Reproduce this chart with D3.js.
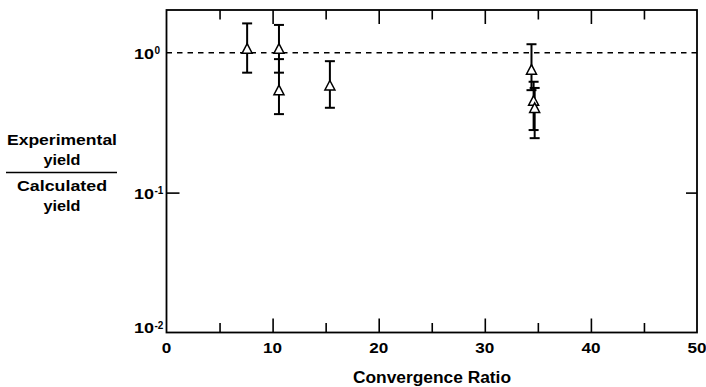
<!DOCTYPE html>
<html>
<head>
<meta charset="utf-8">
<script src="https://d3js.org/d3.v7.min.js"></script>
<style>
  html, body { margin: 0; padding: 0; background: #fff; }
  svg { display: block; }
  text { font-family: "Liberation Sans", Arial, Helvetica, sans-serif; font-weight: bold; fill: #000; }
</style>
</head>
<body>
<svg id="chart" width="706" height="387"></svg>
<script>
// ---- data ----
const convergenceRatio = [7.6, 10.6, 10.6, 15.4, 34.4, 34.6, 34.7];
const yieldRatio       = [1.06, 1.06, 0.535, 0.578, 0.75, 0.45, 0.40];
const errHigh          = [1.62, 1.58, 0.90, 0.87, 1.15, 0.62, 0.56];
const errLow           = [0.72, 0.72, 0.364, 0.404, 0.54, 0.28, 0.245];
const xTickValues = [0, 10, 20, 30, 40, 50];
const xMajorTicks = [10, 20, 30, 40];
const xMinorTicks = [5, 15, 25, 35, 45];
const yTickValues = [0.01, 0.1, 1];
const yTickExponents = ["-2", "-1", "0"];
const referenceLevel = 1;
const xTitle = "Convergence Ratio";
const yTitleTop = ["Experimental", "yield"];
const yTitleBottom = ["Calculated", "yield"];

// ---- layout ----
const svg = d3.select("#chart");
const L = 166.5, R = 697, T = 10, B = 332.5;
const x = d3.scaleLinear().domain([0, 50]).range([L, R]);
const y = d3.scaleLog().domain([0.01, 2.02]).range([B, T]);

// frame
svg.append("rect").attr("x", L).attr("y", T).attr("width", R - L).attr("height", B - T)
  .attr("fill", "none").attr("stroke", "#000").attr("stroke-width", 1.8);

// x ticks (inward) bottom and top: major taller than minor
function xTicks(vals, size) {
  svg.append("g").attr("transform", `translate(0,${B})`)
    .call(d3.axisTop(x).tickValues(vals).tickSize(size).tickFormat(""))
    .call(g => g.select(".domain").remove())
    .call(g => g.selectAll("line").attr("stroke-width", 1.6));
  svg.append("g").attr("transform", `translate(0,${T})`)
    .call(d3.axisBottom(x).tickValues(vals).tickSize(size).tickFormat(""))
    .call(g => g.select(".domain").remove())
    .call(g => g.selectAll("line").attr("stroke-width", 1.6));
}
xTicks(xMajorTicks, 14);
xTicks(xMinorTicks, 9.5);

// y ticks (inward) left and right
svg.append("g").attr("transform", `translate(${L},0)`)
  .call(d3.axisRight(y).tickValues([0.1]).tickSize(13).tickFormat(""))
  .call(g => g.select(".domain").remove())
  .call(g => g.selectAll("line").attr("stroke-width", 1.6));
svg.append("g").attr("transform", `translate(${R},0)`)
  .call(d3.axisLeft(y).tickValues([0.1]).tickSize(11).tickFormat(""))
  .call(g => g.select(".domain").remove())
  .call(g => g.selectAll("line").attr("stroke-width", 1.6));

// x tick labels
svg.append("g").selectAll("text").data(xTickValues).join("text")
  .attr("x", d => x(d)).attr("y", 353)
  .attr("text-anchor", "middle").attr("font-size", 15)
  .attr("textLength", d => String(d).length * 9.5).attr("lengthAdjust", "spacingAndGlyphs")
  .text(d => d);

// y tick labels: 10^n
const yl = svg.append("g").selectAll("g").data(yTickValues).join("g")
  .attr("transform", (d) => `translate(0,${y(d) + (d === 0.01 ? -5.5 : 0)})`);
yl.append("text").attr("x", 134).attr("y", 6).attr("font-size", 15)
  .attr("textLength", 20).attr("lengthAdjust", "spacingAndGlyphs").text("10");
yl.append("text").attr("x", 154.5).attr("y", 1.5).attr("font-size", 10)
  .text((d, i) => yTickExponents[i]);

// reference dashed line
svg.append("line")
  .attr("x1", L).attr("x2", R).attr("y1", y(referenceLevel)).attr("y2", y(referenceLevel))
  .attr("stroke", "#000").attr("stroke-width", 1.6).attr("stroke-dasharray", "5.5,5");

// error bars
const pts = convergenceRatio.map((c, i) => ({c, v: yieldRatio[i], hi: errHigh[i], lo: errLow[i]}));
const eb = svg.append("g").attr("stroke", "#000").attr("stroke-width", 2);
eb.selectAll("line.v").data(pts).join("line").attr("class", "v")
  .attr("x1", d => x(d.c)).attr("x2", d => x(d.c)).attr("y1", d => y(d.hi)).attr("y2", d => y(d.lo));
eb.selectAll("line.h").data(pts).join("line").attr("class", "h")
  .attr("x1", d => x(d.c) - 5).attr("x2", d => x(d.c) + 5).attr("y1", d => y(d.hi)).attr("y2", d => y(d.hi));
eb.selectAll("line.l").data(pts).join("line").attr("class", "l")
  .attr("x1", d => x(d.c) - 5).attr("x2", d => x(d.c) + 5).attr("y1", d => y(d.lo)).attr("y2", d => y(d.lo));

// triangle markers
svg.append("g").selectAll("path").data(pts).join("path")
  .attr("transform", d => `translate(${x(d.c)},${y(d.v)})`)
  .attr("d", "M0,-5.5 L5,4 L-5,4 Z")
  .attr("fill", "#fff").attr("stroke", "#000").attr("stroke-width", 1.5);

// x title
svg.append("text").attr("x", 432).attr("y", 383).attr("text-anchor", "middle")
  .attr("font-size", 16).attr("textLength", 158).attr("lengthAdjust", "spacingAndGlyphs")
  .text(xTitle);

// y title as fraction
const yt = svg.append("g");
const titleLines = [
  {t: yTitleTop[0], yy: 145, w: 110},
  {t: yTitleTop[1], yy: 165, w: 37},
  {t: yTitleBottom[0], yy: 191, w: 90},
  {t: yTitleBottom[1], yy: 211, w: 37}
];
yt.selectAll("text").data(titleLines).join("text")
  .attr("x", 62).attr("y", d => d.yy).attr("text-anchor", "middle").attr("font-size", 15)
  .attr("textLength", d => d.w).attr("lengthAdjust", "spacingAndGlyphs")
  .text(d => d.t);
yt.append("line").attr("x1", 6).attr("x2", 117).attr("y1", 172.5).attr("y2", 172.5)
  .attr("stroke", "#000").attr("stroke-width", 1.6);
</script>
</body>
</html>
